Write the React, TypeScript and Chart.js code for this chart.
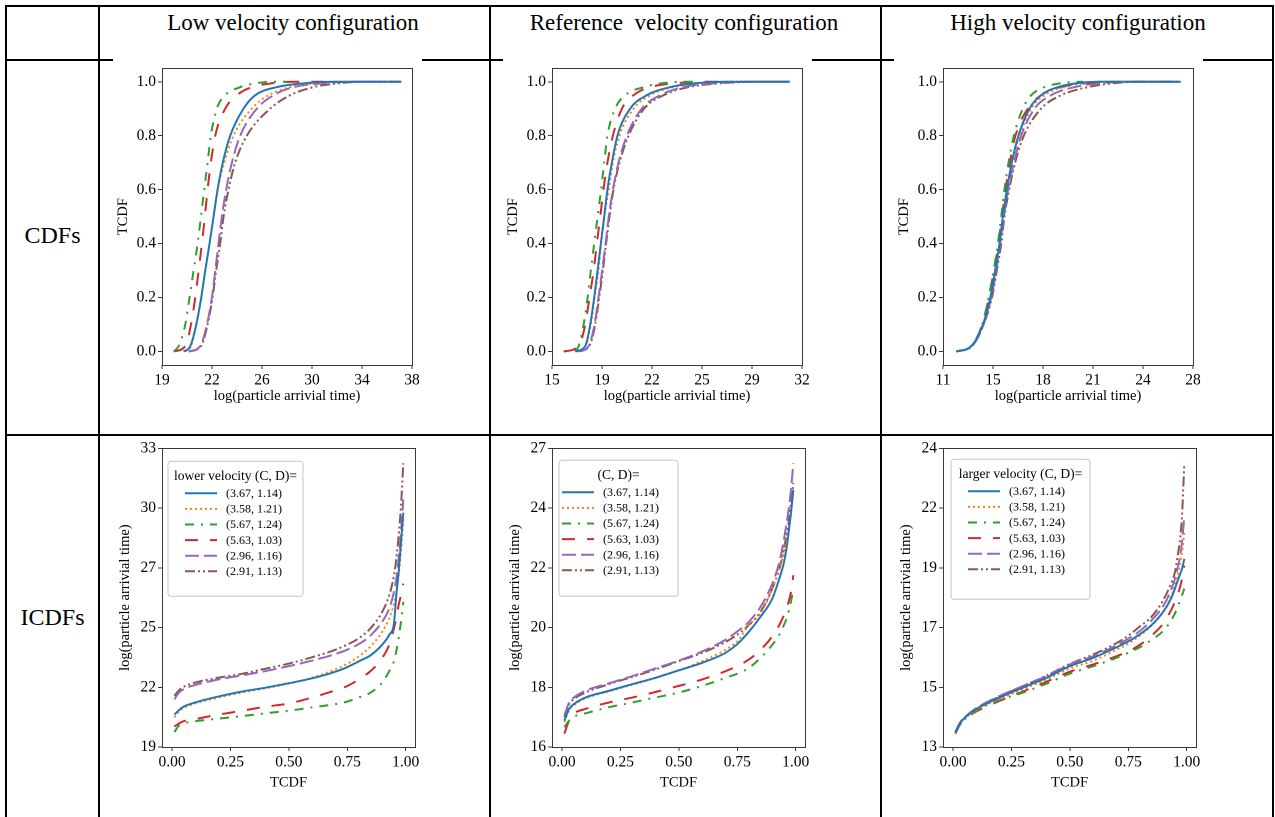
import React, { useEffect, useRef } from "react";
import { Chart, registerables } from "chart.js";
Chart.register(...registerables);

// ---------------- data ----------------
const SERIES_LABELS = ["(3.67, 1.14)", "(3.58, 1.21)", "(5.67, 1.24)", "(5.63, 1.03)", "(2.96, 1.16)", "(2.91, 1.13)"];
const SERIES_COLORS = ["#1f77b4", "#ff7f0e", "#2ca02c", "#d62728", "#9467bd", "#8c564b"];
const SERIES_DASHES: number[][] = [[], [2, 3], [9, 7, 2, 7], [13, 12], [14, 5], [10, 3, 2, 3, 2, 3]];

const COLUMN_TITLES = ["Low velocity configuration", "Reference  velocity configuration", "High velocity configuration"];
const ROW_TITLES = ["CDFs", "ICDFs"];
const LEGEND_TITLES = ["lower velocity (C, D)=", "(C, D)=", "larger velocity (C, D)="];

// CDF panels: TCDF levels (y) and the log arrival time (x) at each level
const CDF_LEVELS = [0, 0.02, 0.1, 0.2, 0.3, 0.4, 0.5, 0.6, 0.7, 0.8, 0.9, 0.95, 0.98, 0.995, 1, 1];
const CDF_YTICKS = [0, 0.2, 0.4, 0.6, 0.8, 1.0];
const CDF_YTICK_LABELS = ["0.0", "0.2", "0.4", "0.6", "0.8", "1.0"];

const LOW_CDF_XTICK_LABELS = ["19", "22", "26", "30", "34", "38"];
const LOW_CDF_BLUE = [20.26, 20.78, 21.24, 21.62, 21.93, 22.26, 22.57, 22.88, 23.28, 23.85, 24.87, 25.77, 27.43, 29.74, 31.78, 37.03];
const LOW_CDF_ORANGE = [20.39, 20.83, 21.24, 21.62, 21.93, 22.26, 22.57, 22.88, 23.39, 24.1, 25.51, 26.79, 28.46, 30.5, 32.3, 37.03];
const LOW_CDF_GREEN = [19.5, 19.88, 20.39, 20.72, 21.03, 21.34, 21.6, 21.85, 22.11, 22.36, 22.82, 23.46, 24.62, 25.9, 27.18, 28.2];
const LOW_CDF_RED = [19.5, 20.39, 20.83, 21.16, 21.42, 21.67, 21.9, 22.11, 22.36, 22.7, 23.46, 24.36, 25.51, 27.18, 28.71, 31.78];
const LOW_CDF_PURPLE = [20.65, 21.54, 22.06, 22.44, 22.7, 22.95, 23.21, 23.54, 23.98, 24.62, 25.9, 27.18, 28.71, 31.27, 33.32, 36.9];
const LOW_CDF_BROWN = [20.65, 21.6, 22.11, 22.49, 22.77, 23.08, 23.34, 23.72, 24.23, 25.13, 26.92, 28.46, 30.25, 32.3, 34.34, 36.9];

const REF_CDF_XTICK_LABELS = ["15", "19", "22", "25", "29", "32"];
const REF_CDF_BLUE = [16.78, 17.46, 17.8, 18.07, 18.3, 18.52, 18.75, 18.97, 19.27, 19.65, 20.51, 21.64, 23.22, 25.03, 26.84, 31.36];
const REF_CDF_ORANGE = [16.78, 17.46, 17.84, 18.09, 18.36, 18.54, 18.75, 19.06, 19.34, 19.79, 20.74, 21.87, 23.45, 25.48, 27.29, 31.36];
const REF_CDF_GREEN = [16.78, 17.01, 17.35, 17.62, 17.84, 18.07, 18.3, 18.54, 18.75, 18.97, 19.49, 20.17, 21.42, 22.77, 24.13, 24.81];
const REF_CDF_RED = [15.99, 17.01, 17.46, 17.75, 18.03, 18.25, 18.48, 18.7, 18.97, 19.34, 19.95, 20.74, 21.87, 23.68, 25.71, 27.29];
const REF_CDF_PURPLE = [17.01, 17.69, 18.09, 18.36, 18.61, 18.84, 19.06, 19.34, 19.72, 20.29, 21.3, 22.55, 24.13, 26.39, 28.65, 31.36];
const REF_CDF_BROWN = [17.01, 17.73, 18.14, 18.41, 18.66, 18.88, 19.11, 19.38, 19.79, 20.4, 21.46, 22.77, 24.47, 26.84, 29.1, 31.36];

const HIGH_CDF_XTICK_LABELS = ["11", "15", "18", "21", "24", "28"];
const HIGH_CDF_BLUE = [12.17, 13.15, 13.92, 14.4, 14.72, 15.01, 15.23, 15.49, 15.81, 16.25, 16.97, 17.73, 18.82, 20.13, 21.44, 26.89];
const HIGH_CDF_ORANGE = [12.17, 13.15, 13.92, 14.4, 14.72, 15.01, 15.23, 15.49, 15.81, 16.32, 17.08, 17.95, 19.15, 20.57, 22.1, 26.89];
const HIGH_CDF_GREEN = [12.17, 13.15, 13.87, 14.29, 14.62, 14.9, 15.12, 15.33, 15.6, 15.95, 16.53, 17.08, 17.95, 19.04, 20.35, 20.5];
const HIGH_CDF_RED = [12.17, 13.15, 13.87, 14.31, 14.64, 14.94, 15.16, 15.4, 15.68, 16.05, 16.86, 17.73, 19.04, 20.79, 22.53, 26.89];
const HIGH_CDF_PURPLE = [12.17, 13.2, 13.96, 14.46, 14.79, 15.05, 15.29, 15.57, 15.95, 16.43, 17.3, 18.39, 19.91, 21.66, 23.4, 26.89];
const HIGH_CDF_BROWN = [12.17, 13.2, 13.96, 14.51, 14.83, 15.12, 15.33, 15.64, 16.03, 16.6, 17.73, 19.04, 20.79, 22.53, 24.28, 26.89];

// ICDF panels: TCDF levels (x) and the log arrival time (y) at each level
const ICDF_LEVELS = [0.01, 0.03, 0.05, 0.1, 0.2, 0.3, 0.4, 0.5, 0.6, 0.7, 0.75, 0.8, 0.85, 0.9, 0.93, 0.95, 0.96, 0.97, 0.98, 0.99];
const ICDF_XTICKS = [0, 0.25, 0.5, 0.75, 1.0];
const ICDF_XTICK_LABELS = ["0.00", "0.25", "0.50", "0.75", "1.00"];

const LOW_ICDF_YTICK_LABELS = ["19", "22", "25", "27", "30", "33"];
const LOW_ICDF_BLUE = [20.52, 20.73, 20.89, 21.09, 21.37, 21.6, 21.78, 21.99, 22.22, 22.53, 22.74, 23.02, 23.3, 23.8, 24.26, 24.8, 26.12, 27.2, 28.59, 29.98];
const LOW_ICDF_ORANGE = [20.39, 20.67, 20.83, 21.04, 21.32, 21.55, 21.75, 21.97, 22.25, 22.64, 22.9, 23.25, 23.72, 24.41, 25.03, 25.73, 26.27, 27.04, 28.13, 29.67];
const LOW_ICDF_GREEN = [19.7, 20.01, 20.11, 20.21, 20.33, 20.45, 20.58, 20.7, 20.86, 21.01, 21.13, 21.32, 21.55, 22.02, 22.56, 23.02, 23.49, 24.1, 24.88, 25.81];
const LOW_ICDF_RED = [19.96, 20.11, 20.21, 20.31, 20.52, 20.7, 20.89, 21.04, 21.32, 21.66, 21.86, 22.17, 22.56, 23.18, 23.8, 24.57, 25.03, 25.65, 26.12, 26.66];
const LOW_ICDF_PURPLE = [21.24, 21.55, 21.71, 21.91, 22.17, 22.36, 22.56, 22.79, 23.05, 23.36, 23.56, 23.83, 24.23, 24.88, 25.5, 26.27, 26.89, 27.82, 29.06, 30.6];
const LOW_ICDF_BROWN = [21.4, 21.66, 21.82, 22.02, 22.25, 22.43, 22.67, 22.91, 23.21, 23.56, 23.8, 24.1, 24.57, 25.34, 26.12, 27.04, 27.82, 28.9, 30.29, 32.3];

const REF_ICDF_YTICK_LABELS = ["16", "18", "20", "22", "24", "27"];
const REF_ICDF_BLUE = [16.75, 17.17, 17.34, 17.58, 17.82, 18.06, 18.29, 18.56, 18.83, 19.19, 19.5, 19.95, 20.49, 21.14, 21.86, 22.45, 22.9, 23.52, 24.23, 25.06];
const REF_ICDF_ORANGE = [16.7, 17.12, 17.3, 17.55, 17.8, 18.04, 18.28, 18.56, 18.89, 19.3, 19.6, 20.19, 20.61, 21.5, 22.21, 22.81, 23.2, 23.64, 24.23, 25.06];
const REF_ICDF_GREEN = [16.51, 16.75, 16.89, 17.01, 17.23, 17.4, 17.58, 17.76, 18.0, 18.29, 18.44, 18.65, 19.01, 19.48, 19.84, 20.19, 20.4, 20.67, 21.03, 21.5];
const REF_ICDF_RED = [16.28, 16.75, 16.99, 17.17, 17.4, 17.58, 17.78, 18.0, 18.23, 18.53, 18.71, 18.95, 19.3, 19.78, 20.19, 20.55, 20.78, 21.03, 21.38, 21.98];
const REF_ICDF_PURPLE = [16.93, 17.4, 17.58, 17.82, 18.09, 18.35, 18.63, 18.91, 19.24, 19.66, 19.96, 20.31, 20.85, 21.68, 22.45, 23.28, 23.8, 24.35, 25.06, 26.01];
const REF_ICDF_BROWN = [16.87, 17.34, 17.52, 17.76, 18.06, 18.32, 18.59, 18.89, 19.19, 19.58, 19.84, 20.19, 20.67, 21.5, 22.21, 22.93, 23.4, 23.88, 24.59, 25.3];

const HIGH_ICDF_YTICK_LABELS = ["13", "15", "17", "19", "22", "24"];
const HIGH_ICDF_BLUE = [13.53, 13.86, 14.05, 14.37, 14.78, 15.14, 15.49, 15.91, 16.21, 16.59, 16.8, 17.06, 17.39, 17.87, 18.29, 18.7, 18.95, 19.18, 19.41, 19.77];
const HIGH_ICDF_ORANGE = [13.53, 13.83, 14.02, 14.33, 14.73, 15.08, 15.43, 15.83, 16.11, 16.5, 16.72, 17.01, 17.37, 17.87, 18.35, 18.82, 19.15, 19.53, 20.01, 20.72];
const HIGH_ICDF_GREEN = [13.53, 13.83, 14.0, 14.31, 14.69, 14.96, 15.28, 15.64, 15.91, 16.21, 16.39, 16.59, 16.86, 17.18, 17.51, 17.81, 18.0, 18.23, 18.46, 18.7];
const HIGH_ICDF_RED = [13.48, 13.81, 14.0, 14.28, 14.66, 15.0, 15.35, 15.71, 15.97, 16.27, 16.44, 16.68, 17.01, 17.45, 17.87, 18.23, 18.45, 18.7, 19.06, 19.53];
const HIGH_ICDF_PURPLE = [13.53, 13.88, 14.07, 14.4, 14.84, 15.2, 15.55, 15.97, 16.27, 16.66, 16.9, 17.18, 17.56, 18.08, 18.58, 19.06, 19.4, 19.77, 20.36, 21.31];
const HIGH_ICDF_BROWN = [13.53, 13.87, 14.06, 14.38, 14.82, 15.19, 15.57, 15.99, 16.33, 16.74, 17.01, 17.34, 17.69, 18.29, 18.82, 19.3, 19.8, 20.36, 21.31, 23.21];

// ---------------- styling ----------------
const SERIF = '"Liberation Serif", "Times New Roman", serif';
const AXIS_COLOR = "#3a3a3a";
const TICK_FONT = 15.5;
const TITLE_FONT = 14.5;
const COL_OFFSETS = [0, 390, 781];

function evenTicks(min: number, max: number, n: number) {
  const out: number[] = [];
  for (let i = 0; i < n; i++) out.push(min + ((max - min) * i) / (n - 1));
  return out;
}

const framePlugin = {
  id: "mplFrame",
  afterDraw(chart: any) {
    const { ctx, chartArea: a } = chart;
    ctx.save();
    ctx.strokeStyle = AXIS_COLOR;
    ctx.lineWidth = 1;
    ctx.strokeRect(Math.round(a.left) + 0.5, Math.round(a.top) + 0.5, Math.round(a.right - a.left), Math.round(a.bottom - a.top));
    ctx.restore();
  },
};

const legendPlugin = {
  id: "mplLegend",
  afterDraw(chart: any, _args: any, opts: any) {
    if (!opts || !opts.show) return;
    const { ctx, chartArea: a } = chart;
    const x0 = a.left + opts.left;
    const y0 = a.top + opts.top;
    const w = opts.width;
    const h = opts.height;
    ctx.save();
    ctx.beginPath();
    const r = 3;
    ctx.moveTo(x0 + r, y0);
    ctx.lineTo(x0 + w - r, y0);
    ctx.arcTo(x0 + w, y0, x0 + w, y0 + r, r);
    ctx.lineTo(x0 + w, y0 + h - r);
    ctx.arcTo(x0 + w, y0 + h, x0 + w - r, y0 + h, r);
    ctx.lineTo(x0 + r, y0 + h);
    ctx.arcTo(x0, y0 + h, x0, y0 + h - r, r);
    ctx.lineTo(x0, y0 + r);
    ctx.arcTo(x0, y0, x0 + r, y0, r);
    ctx.closePath();
    ctx.fillStyle = "rgba(255,255,255,0.85)";
    ctx.fill();
    ctx.strokeStyle = "#c4c4c4";
    ctx.lineWidth = 1;
    ctx.stroke();

    ctx.fillStyle = "#000";
    ctx.textBaseline = "middle";
    ctx.textAlign = "center";
    ctx.font = `${opts.titleSize}px ${SERIF}`;
    ctx.fillText(opts.title, x0 + w / 2, y0 + opts.titleDy);

    ctx.textAlign = "left";
    ctx.font = `${opts.entrySize}px ${SERIF}`;
    chart.data.datasets.forEach((ds: any, i: number) => {
      const y = y0 + opts.firstDy + i * opts.spacing;
      const hx = x0 + opts.entryLeft;
      ctx.beginPath();
      ctx.setLineDash(ds.borderDash || []);
      ctx.lineWidth = ds.borderWidth;
      ctx.strokeStyle = ds.borderColor;
      ctx.moveTo(hx, y);
      ctx.lineTo(hx + opts.handleLen, y);
      ctx.stroke();
      ctx.setLineDash([]);
      ctx.fillStyle = "#000";
      ctx.fillText(ds.label, hx + opts.handleLen + opts.gap, y + 0.5);
    });
    ctx.restore();
  },
};

type Panel = {
  kind: "cdf" | "icdf";
  col: number;
  xMin: number;
  xMax: number;
  yMin: number;
  yMax: number;
  xTicks: number[];
  xLabels: string[];
  yTicks: number[];
  yLabels: string[];
  series: number[][];
  legend?: any;
};

function buildDatasets(p: Panel) {
  return p.series.map((vals, i) => ({
    label: SERIES_LABELS[i],
    data:
      p.kind === "cdf"
        ? vals.map((x, j) => ({ x, y: CDF_LEVELS[j] }))
        : vals.map((y, j) => ({ x: ICDF_LEVELS[j], y })),
    borderColor: SERIES_COLORS[i],
    backgroundColor: SERIES_COLORS[i],
    borderDash: SERIES_DASHES[i],
    borderWidth: 2,
    pointRadius: 0,
    fill: false,
    cubicInterpolationMode: "monotone" as const,
  }));
}

function axis(min: number, max: number, ticks: number[], labels: string[], title: string, horizontal: boolean, size: number, titlePad: any) {
  return {
    type: "linear" as const,
    min,
    max,
    afterBuildTicks: (s: any) => {
      s.ticks = ticks.map((v) => ({ value: v }));
    },
    afterFit: (s: any) => {
      if (horizontal) s.height = size;
      else s.width = size;
    },
    ticks: {
      autoSkip: false,
      maxRotation: 0,
      padding: 2,
      color: "#000",
      font: { family: SERIF, size: TICK_FONT },
      callback: (_v: any, idx: number) => labels[idx],
    },
    grid: {
      display: true,
      drawOnChartArea: false,
      drawTicks: true,
      tickLength: 4,
      color: AXIS_COLOR,
      tickColor: AXIS_COLOR,
    },
    border: { display: false },
    title: {
      display: true,
      text: title,
      color: "#000",
      font: { family: SERIF, size: TITLE_FONT },
      padding: titlePad,
    },
  };
}

const PANELS: Panel[] = [
  {
    kind: "cdf", col: 0, xMin: 18.6, xMax: 37.85, yMin: -0.05, yMax: 1.05,
    xTicks: evenTicks(18.6, 37.85, 6), xLabels: LOW_CDF_XTICK_LABELS, yTicks: CDF_YTICKS, yLabels: CDF_YTICK_LABELS,
    series: [LOW_CDF_BLUE, LOW_CDF_ORANGE, LOW_CDF_GREEN, LOW_CDF_RED, LOW_CDF_PURPLE, LOW_CDF_BROWN],
  },
  {
    kind: "cdf", col: 1, xMin: 15.2, xMax: 32.2, yMin: -0.05, yMax: 1.05,
    xTicks: evenTicks(15.2, 32.2, 6), xLabels: REF_CDF_XTICK_LABELS, yTicks: CDF_YTICKS, yLabels: CDF_YTICK_LABELS,
    series: [REF_CDF_BLUE, REF_CDF_ORANGE, REF_CDF_GREEN, REF_CDF_RED, REF_CDF_PURPLE, REF_CDF_BROWN],
  },
  {
    kind: "cdf", col: 2, xMin: 11.3, xMax: 27.7, yMin: -0.05, yMax: 1.05,
    xTicks: evenTicks(11.3, 27.7, 6), xLabels: HIGH_CDF_XTICK_LABELS, yTicks: CDF_YTICKS, yLabels: CDF_YTICK_LABELS,
    series: [HIGH_CDF_BLUE, HIGH_CDF_ORANGE, HIGH_CDF_GREEN, HIGH_CDF_RED, HIGH_CDF_PURPLE, HIGH_CDF_BROWN],
  },
  {
    kind: "icdf", col: 0, xMin: -0.043, xMax: 1.04, yMin: 19.0, yMax: 33.0,
    xTicks: ICDF_XTICKS, xLabels: ICDF_XTICK_LABELS, yTicks: evenTicks(19.0, 33.0, 6), yLabels: LOW_ICDF_YTICK_LABELS,
    series: [LOW_ICDF_BLUE, LOW_ICDF_ORANGE, LOW_ICDF_GREEN, LOW_ICDF_RED, LOW_ICDF_PURPLE, LOW_ICDF_BROWN],
    legend: { title: LEGEND_TITLES[0], left: 6, top: 13, width: 135, height: 135, entryLeft: 17 },
  },
  {
    kind: "icdf", col: 1, xMin: -0.043, xMax: 1.04, yMin: 15.8, yMax: 26.55,
    xTicks: ICDF_XTICKS, xLabels: ICDF_XTICK_LABELS, yTicks: evenTicks(15.8, 26.55, 6), yLabels: REF_ICDF_YTICK_LABELS,
    series: [REF_ICDF_BLUE, REF_ICDF_ORANGE, REF_ICDF_GREEN, REF_ICDF_RED, REF_ICDF_PURPLE, REF_ICDF_BROWN],
    legend: { title: LEGEND_TITLES[1], left: 7, top: 12, width: 119, height: 136, entryLeft: 3 },
  },
  {
    kind: "icdf", col: 2, xMin: -0.043, xMax: 1.04, yMin: 13.0, yMax: 23.75,
    xTicks: ICDF_XTICKS, xLabels: ICDF_XTICK_LABELS, yTicks: evenTicks(13.0, 23.75, 6), yLabels: HIGH_ICDF_YTICK_LABELS,
    series: [HIGH_ICDF_BLUE, HIGH_ICDF_ORANGE, HIGH_ICDF_GREEN, HIGH_ICDF_RED, HIGH_ICDF_PURPLE, HIGH_ICDF_BROWN],
    legend: { title: LEGEND_TITLES[2], left: 8, top: 11, width: 139, height: 140, entryLeft: 17 },
  },
];

function buildConfig(p: Panel): any {
  const isCdf = p.kind === "cdf";
  const xTitle = isCdf ? "log(particle arrivial time)" : "TCDF";
  const yTitle = isCdf ? "TCDF" : "log(particle arrivial time)";
  const legendOpts = p.legend
    ? {
        show: true,
        ...p.legend,
        titleSize: 13.5,
        entrySize: 12,
        titleDy: 15,
        firstDy: 32,
        spacing: 15.6,
        handleLen: 32,
        gap: 9,
      }
    : { show: false };
  return {
    type: "line",
    data: { datasets: buildDatasets(p) },
    options: {
      animation: false,
      responsive: true,
      maintainAspectRatio: false,
      devicePixelRatio: 2,
      layout: {
        padding: isCdf
          ? { top: 9, right: 10, bottom: 0, left: 0 }
          : { top: 8, right: 7, bottom: 20, left: 0 },
      },
      plugins: {
        legend: { display: false },
        tooltip: { enabled: false },
        mplLegend: legendOpts,
      },
      scales: {
        x: axis(p.xMin, p.xMax, p.xTicks, p.xLabels, xTitle, true, isCdf ? 42 : 50, isCdf ? { top: 0, bottom: 2 } : { top: 0, bottom: 5.6 }),
        y: axis(p.yMin, p.yMax, p.yTicks, p.yLabels, yTitle, false, 49, isCdf ? { top: 1.6, bottom: 0 } : { top: 3.6, bottom: 0 }),
      },
    },
    plugins: [framePlugin, legendPlugin],
  };
}

function ChartPanel({ panel }: { panel: Panel }) {
  const ref = useRef<HTMLCanvasElement | null>(null);
  useEffect(() => {
    if (!ref.current) return;
    const chart = new Chart(ref.current, buildConfig(panel));
    return () => chart.destroy();
  }, [panel]);
  const isCdf = panel.kind === "cdf";
  const style: React.CSSProperties = {
    position: "absolute",
    left: 113 + COL_OFFSETS[panel.col],
    top: isCdf ? 57 : 437,
    width: 309,
    height: isCdf ? 350 : 380,
    background: "#fff",
  };
  return (
    <div style={style}>
      <canvas ref={ref} />
    </div>
  );
}

function Line({ x, y, w, h }: { x: number; y: number; w: number; h: number }) {
  return <div style={{ position: "absolute", left: x, top: y, width: w, height: h, background: "#000" }} />;
}

export default function App() {
  useEffect(() => {
    document.body.style.margin = "0";
    document.body.style.overflow = "hidden";
  }, []);
  const headerCenters = [293, 684, 1078];
  return (
    <div style={{ position: "absolute", left: 0, top: 0, width: 1275, height: 817, background: "#fff", overflow: "hidden", fontFamily: SERIF }}>
      {/* table grid */}
      <Line x={5} y={5} w={1269} h={2} />
      <Line x={5} y={59} w={1269} h={2} />
      <Line x={5} y={434} w={1269} h={2} />
      <Line x={5} y={5} w={2} h={812} />
      <Line x={98} y={5} w={2} h={812} />
      <Line x={489} y={5} w={2} h={812} />
      <Line x={880} y={5} w={2} h={812} />
      <Line x={1272} y={5} w={2} h={812} />
      {COLUMN_TITLES.map((t, i) => (
        <div key={t} style={{ position: "absolute", left: headerCenters[i] - 190, width: 380, top: 9, textAlign: "center", fontSize: 23, lineHeight: "27px", whiteSpace: "pre", color: "#000" }}>
          {t}
        </div>
      ))}
      <div style={{ position: "absolute", left: 7, width: 91, top: 221, textAlign: "center", fontSize: 24, lineHeight: "28px", color: "#000" }}>{ROW_TITLES[0]}</div>
      <div style={{ position: "absolute", left: 7, width: 91, top: 603, textAlign: "center", fontSize: 24, lineHeight: "28px", color: "#000" }}>{ROW_TITLES[1]}</div>
      {PANELS.map((p, i) => (
        <ChartPanel key={i} panel={p} />
      ))}
    </div>
  );
}
